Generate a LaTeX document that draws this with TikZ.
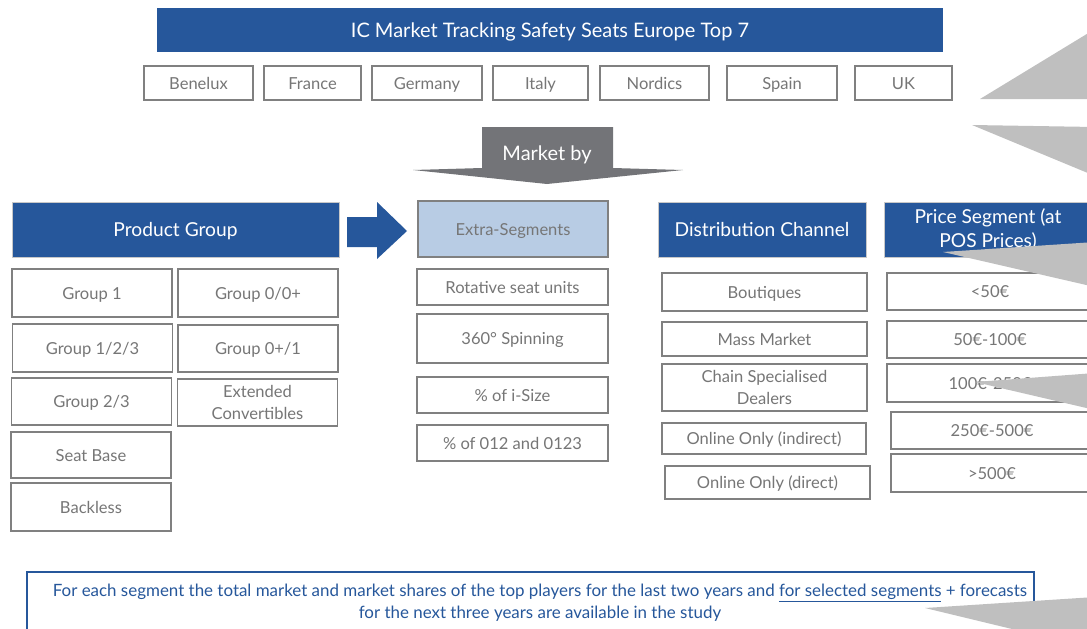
\documentclass[tikz,border=0pt]{standalone}
\usepackage{fontspec}
\setmainfont{Lato}
\usepackage{tikz}

\definecolor{segblue}{RGB}{38,87,155}
\definecolor{segline}{RGB}{200,200,200}
\definecolor{cellgrey}{RGB}{128,128,128}
\definecolor{textgrey}{RGB}{118,118,118}
\definecolor{lightblue}{RGB}{184,204,228}
\definecolor{arrowgrey}{RGB}{115,116,120}
\definecolor{wedgegrey}{RGB}{191,191,191}

\newdimen\px \px=0.75pt

\begin{document}
\begin{tikzpicture}[x=0.75pt,y=-0.75pt]
    \tikzstyle{head}=[rectangle,draw=segline,line width=0.6pt,fill=segblue,text=white,inner sep=0pt,align=center,text height=10.4pt,text depth=0pt,font=\fontsize{14.4}{18}\selectfont]
    \tikzstyle{cell}=[rectangle,draw=cellgrey,line width=1.1pt,fill=white,text=textgrey,inner sep=0pt,align=center,text height=9pt,text depth=0pt,font=\fontsize{12.4}{16.5}\selectfont]
    \tikzstyle{twolines}=[text height={},text depth={}]
    \tikzstyle{pgcell}=[cell,minimum width=160\px,minimum height=47\px]
    \tikzstyle{escell}=[cell,minimum width=191\px,minimum height=36\px]
    \tikzstyle{dccell}=[cell,minimum width=205\px]
    \tikzstyle{pscell}=[cell,minimum width=206\px,minimum height=37\px]
    \tikzstyle{country}=[cell,minimum height=34\px]

    \useasboundingbox (0,0) rectangle (1087,628);
    \clip (0,0) rectangle (1087,628);

    % title and countries
    \node[head,draw=none,minimum width=786\px,minimum height=44\px,text height=10.8pt,font=\fontsize{15}{18}\selectfont] (title) at (550,30) {IC Market Tracking Safety Seats Europe Top 7};

    \node[country,minimum width=109\px] (benelux) at (198.5,83) {Benelux};
    \node[country,minimum width=97\px]  (france)  at (312.5,83) {France};
    \node[country,minimum width=110\px] (germany) at (427,83)   {Germany};
    \node[country,minimum width=95\px]  (italy)   at (540.5,83) {Italy};
    \node[country,minimum width=109\px] (nordics) at (654.5,83) {Nordics};
    \node[country,minimum width=110\px] (spain)   at (782,83)   {Spain};
    \node[country,minimum width=97\px]  (uk)      at (903.5,83) {UK};

    % market by arrow
    \fill[arrowgrey] (482,127) -- (613,127) -- (613,168) -- (683,170) -- (547,184) -- (413,170) -- (482,168) -- cycle;
    \node[text=white,text height=10.8pt,text depth=0pt,font=\fontsize{15}{18}\selectfont] (mby) at (547,153) {Market by};

    % headers
    \node[head,minimum width=327\px,minimum height=55\px] (pg) at (175.5,229.5) {Product Group};
    \node[cell,fill=lightblue,minimum width=190\px,minimum height=56\px] (es) at (513,229) {Extra-Segments};
    \node[head,minimum width=208\px,minimum height=55\px] (dc) at (762,229.5) {Distribution Channel};
    \node[head,twolines,minimum width=208\px,minimum height=55\px] (ps) at (988,229.5) {Price Segment (at\\POS Prices)};

    \fill[segblue] (347,217) -- (377,217) -- (377,202) -- (407,231) -- (377,259) -- (377,247) -- (347,247) -- cycle;

    % product groups
    \node[pgcell,minimum height=48\px] (g1)    at (92,293)    {Group 1};
    \node[pgcell,minimum height=48\px] (g00)   at (258,293)   {Group 0/0+};
    \node[pgcell,minimum height=48\px] (g123)  at (92.5,348)  {Group 1/2/3};
    \node[pgcell]                      (g01)   at (258,348.5) {Group 0+/1};
    \node[pgcell]                      (g23)   at (91.5,401.5) {Group 2/3};
    \node[pgcell,twolines]             (ext)   at (257.5,402.5) {Extended\\Convertibles};
    \node[pgcell,minimum height=46\px] (base)  at (91,455)    {Seat Base};
    \node[pgcell,minimum height=48\px] (back)  at (91,507)    {Backless};

    % extra segments
    \node[escell]                      (rot)   at (512.5,287)   {Rotative seat units};
    \node[escell,minimum height=49\px] (spin)  at (512.5,338.5) {360° Spinning};
    \node[escell]                      (isize) at (512.5,395)   {\% of i-Size};
    \node[escell]                      (o123)  at (512.5,443)   {\% of 012 and 0123};

    % distribution channels
    \node[dccell,minimum height=38\px] (bout)  at (764.5,292)   {Boutiques};
    \node[dccell,minimum height=34\px] (mass)  at (764.5,339)   {Mass Market};
    \node[dccell,twolines,minimum height=47\px] (chain) at (764.5,387.5) {Chain Specialised\\Dealers};
    \node[dccell,minimum height=31\px,minimum width=204\px] (onind) at (764,438.5) {Online Only (indirect)};
    \node[dccell,minimum height=33\px] (ondir) at (767.5,482.5) {Online Only (direct)};

    % price segments
    \node[pscell] (p1) at (990,291.5) {<50€};
    \node[pscell] (p2) at (990,339.5) {50€-100€};
    \node[pscell,minimum height=38\px] (p3) at (990,383) {100€-250€};
    \node[pscell,minimum width=202\px] (p4) at (992,430.5) {250€-500€};
    \node[pscell,minimum width=202\px,minimum height=38\px] (p5) at (992,473) {>500€};

    % note
    \node[rectangle,draw=segblue,line width=0.9pt,fill=white,minimum width=1007\px,minimum height=80\px] (note) at (530.5,612) {};
    \node[text=segblue,align=center,font=\fontsize{12.7}{16.5}\selectfont] (notetext) at (540,603)
        {For each segment the total market and market shares of the top players for the last two years and \underline{for selected segments} + forecasts\\for the next three years are available in the study};

    % callout pointers
    \fill[wedgegrey] (980,99) -- (1095,29) -- (1095,99) -- cycle;
    \fill[wedgegrey] (972,125) -- (1095,127) -- (1095,176) -- cycle;
    \fill[wedgegrey] (943,252) -- (1095,242) -- (1095,287) -- cycle;
    \fill[wedgegrey] (975,382) -- (1095,373) -- (1095,410) -- cycle;
    \fill[wedgegrey] (925,608) -- (1095,597) -- (1095,649) -- cycle;
\end{tikzpicture}
\end{document}
